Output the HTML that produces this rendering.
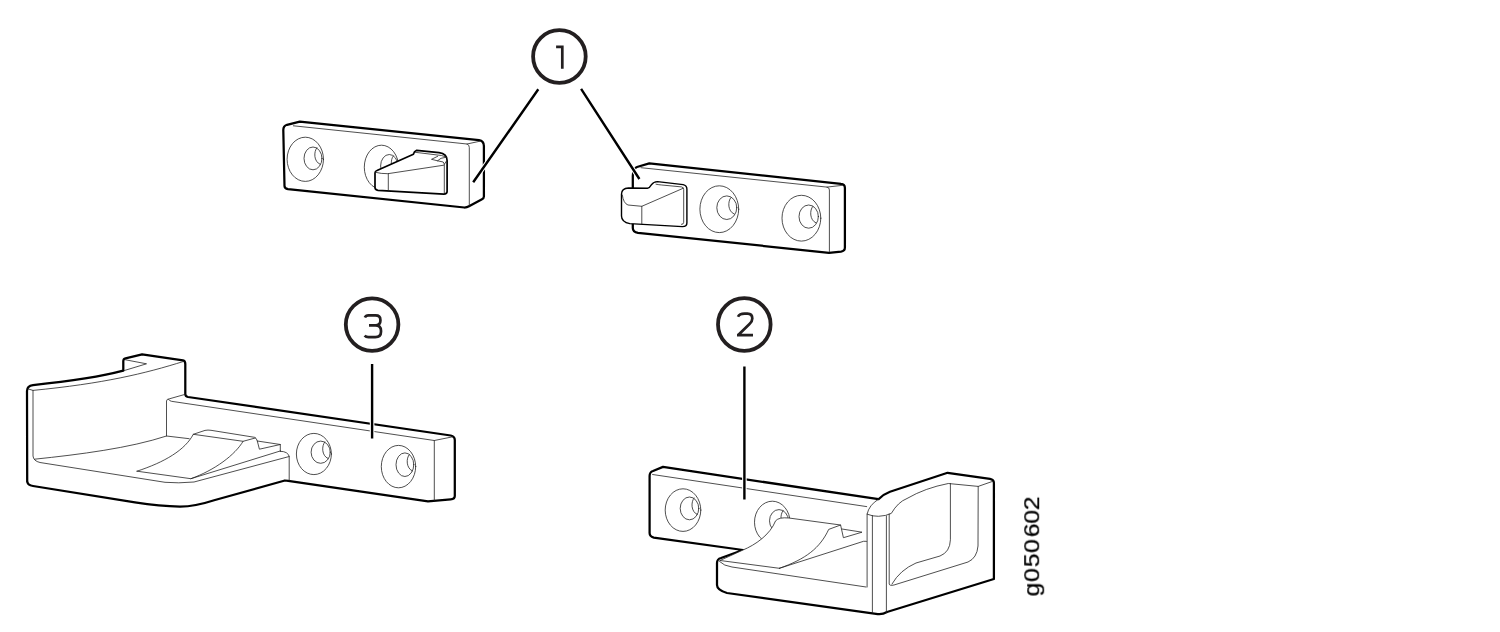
<!DOCTYPE html>
<html><head><meta charset="utf-8">
<style>
html,body{margin:0;padding:0;background:#fff;width:1500px;height:632px;overflow:hidden}
svg{display:block}
.k{fill:#fff;stroke:#000;stroke-width:2.25;stroke-linejoin:round;stroke-linecap:round}
.t{fill:none;stroke:#222;stroke-width:0.8;stroke-linejoin:round;stroke-linecap:round}
.tf{fill:#fff;stroke:#111;stroke-width:0.9;stroke-linejoin:round}
.L{fill:none;stroke:#000;stroke-width:2.4;stroke-linecap:butt}
.H{fill:none;stroke:#fff;stroke-width:4.6;stroke-linecap:butt}
.c{fill:#fff;stroke:#231f20;stroke-width:3.8}
.d{fill:none;stroke:#231f20;stroke-width:2.7;stroke-linecap:butt;stroke-linejoin:miter}
</style></head>
<body>
<svg width="1500" height="632" viewBox="0 0 1500 632">

<defs><filter id="nf" x="-10%" y="-10%" width="120%" height="120%"><feOffset dx="0" dy="0"/></filter></defs>
<!-- ===== Part 1 left bracket ===== -->
<g id="p1l">
<path class="k" d="M284.5,186 L283.3,130 Q283.3,126 287,124.8 L299.8,121.6 L479,140.1 Q483.9,140.8 483.9,146 L483.9,196.5 Q483.9,198.3 482,199.2 L469,206.3 Q467,207.5 464.4,207.5 L288,189.2 Q284.5,188.6 284.5,186 Z"/>
<path class="t" d="M293.4,125.8 L467,144 Q469.3,144.8 469.3,147.5 L469.3,205.8 M467,144 L480,141.2"/>
<ellipse class="t" cx="305.3" cy="159.3" rx="18.2" ry="22.1"/>
<ellipse class="t" cx="313" cy="158.4" rx="9" ry="11.4"/>
<path class="t" d="M316.9,147.8 C313.6,151.6 313.6,161.6 320.1,164.3"/>
<ellipse class="t" cx="381.5" cy="167.2" rx="17.2" ry="22"/>
<ellipse class="t" cx="389.3" cy="166" rx="8.7" ry="11.5"/>
<path class="t" d="M393.4,155.8 C390.1,159.6 390.1,169.6 396.6,172.3"/>
<!-- latch -->
<path class="k" style="stroke-width:1.7" d="M375,173 Q375,171 377,170.5 L413.4,154.2 Q414,151.5 416.7,150.3 L439,152.6 C445,153.5 447.1,156 447.1,160.5 L447.1,191.5 Q447.1,194.1 443.8,194.1 L378,190.3 Q375,190 375,187.5 Z"/>
<path class="t" d="M375.4,172.3 Q381,173.8 387.8,173.7 L443.8,165.2 L446.5,161 M388.3,173.7 L388.3,191.1 M444.3,165.2 L444.3,193 M415.3,152.3 L441.5,155.5 L446,157 M437.7,156.3 L431.5,159.3 L437.5,160.8 L441,158.3 L446.5,157.2 M437.5,160.8 L443.2,162 L444.3,164"/>
</g>

<!-- ===== Part 1 right bracket ===== -->
<g id="p1r">
<path class="k" d="M632.8,176 Q632.8,168.5 637,167 L649.3,163.4 L841,183.8 Q844.9,184 844.9,188 L844.9,247.5 Q844.9,251 841,251.6 L829,252.8 L638,232.8 Q632.8,232 632.8,228 Z"/>
<path class="t" d="M641,167.7 L827,187.1 Q829.4,187.5 829.4,190 L829.4,251.5 M827,187.1 L842.6,185.3"/>
<ellipse class="t" cx="719.3" cy="209.2" rx="19.4" ry="23.4"/>
<ellipse class="t" cx="726.8" cy="207.7" rx="10" ry="11.8"/>
<path class="t" d="M730.9,197.5 C727.6,201.3 727.6,211.3 734.1,214.0"/>
<ellipse class="t" cx="801.4" cy="218.2" rx="19.4" ry="22.9"/>
<ellipse class="t" cx="808.7" cy="216.6" rx="9.7" ry="11.6"/>
<path class="t" d="M812.8,206.4 C809.5,210.2 809.5,220.2 816.0,222.9"/>
<!-- latch -->
<path class="k" style="stroke-width:1.4" d="M621.5,194 Q621.5,188.5 628.5,188 L647.5,188.2 Q649.5,188 651.3,184.8 Q653.5,181.6 657.5,181.6 L683.1,184.6 Q686.9,185.5 686.9,189 L686.9,223 Q686.9,226.6 682.4,226.6 L629.8,223.6 Q621.5,222 621.5,216 Z"/>
<path class="t" d="M622.3,195 Q623.5,203.5 628,205 L641.8,206.3 L683.1,188.3 M641.8,206.3 L641.8,223.6 M656,184.2 Q659,184.8 661.8,185 L681.5,186.9 Q683.7,187.3 683.7,189.5 L683.7,222.3 Q683.7,224.4 681.5,224.4"/>
</g>

<!-- ===== Part 3 ===== -->
<g id="p3">
<path class="k" d="M27.2,482 L27,391 Q27,386 33,385.1 Q92,379 123.3,370.7 L123.3,361 Q123.3,358.8 125.5,358.3 L142.1,354.4 L183,360.4 Q185.3,361 185.3,364 L185.3,394 Q185.3,396.5 188,397 L450.7,435.5 Q454.8,436.5 454.8,440 L454.8,496 Q454.8,499 450.7,499.3 L428,501.3 L288.2,480.8 L284.9,480.5 L215,500 Q195,506.5 180,506.7 Q160,506 135,502.3 L33,486 Q27.5,485 27.5,482 Z"/>
<path class="t" d="M28.3,389 L33,390.4 C103,383.6 145,373.6 183.6,361.4 M125.5,359.8 L146.5,363.8 L124.4,370.5"/>
<path class="t" d="M166.5,436 L166.5,401 Q166.5,399 169.8,398.7 L185.3,394.3 M168.5,399.3 Q169.5,401 171.5,401.3 L434.3,440.5 L452.7,436.8 M434.3,440.5 L434.3,500.3"/>
<path class="t" d="M33,390.4 L33,456 Q33.5,461 40,462.5 L165,482.3 Q178,483.5 194,482 L289.2,456.5 L289.2,480.5 M280.3,451.3 Q288,451.3 289.3,456.5"/>
<path class="t" d="M34.5,459.2 C80,454.5 130,448 166.5,436 L189.2,438.7"/>
<!-- floor latch -->
<path class="t" d="M137,471.2 C165,462 185,450 193.3,434.3 L205,430.4 Q208,429.8 211,430.3 L254.5,437.3 Q256.5,438 257.3,441 L259.4,449.2 L280.3,444.5 L280.3,451.1 M257.3,441 L280.3,444.5"/>
<path class="t" d="M193.3,434.3 L243.1,441.3 L255.3,438 M243.1,441.3 C235,455 215,470 190.9,478.7 M137,471.2 L190.9,478.7 L280.5,450.9"/>
<ellipse class="t" cx="313.9" cy="454" rx="17.5" ry="20.6"/>
<ellipse class="t" cx="320.7" cy="452.2" rx="9.6" ry="11.1"/>
<path class="t" d="M324.8,442.0 C321.5,445.8 321.5,455.8 328.0,458.5"/>
<ellipse class="t" cx="398.5" cy="466.6" rx="17.2" ry="21.2"/>
<ellipse class="t" cx="404.9" cy="464.7" rx="8.9" ry="11.8"/>
<path class="t" d="M409.3,454.5 C406.0,458.3 406.0,468.3 412.5,471.0"/>
</g>

<!-- ===== Part 2 ===== -->
<g id="p2">
<path class="k" d="M649.6,476 Q649.6,472 653,471 L663,466.9 L878.5,499.2 Q883,494.5 890,491.8 L947.6,472.8 L990,478.8 Q993.9,479.5 993.9,483 L993.9,579 L887,612 Q882,615 876,613.8 L727,593 Q717,590 717,585 L717,563 Q717,559 721,558 L743,550 L653.8,537.6 Q649.6,536.5 649.6,533 Z"/>
<path class="t" d="M652.6,474.5 L866.7,506.6"/>
<!-- post -->
<path class="t" d="M867.1,587 L867.1,514.2 Q869,505 878.5,499.2 M867.1,514.2 Q873,516.5 878.5,516.3 Q886,516 891.3,513.4 Q898,502 907,498.5 Q925,488 948.3,483.5 L978.2,486.4 L992.5,481.4"/>
<path class="t" d="M872.4,515.5 L872.4,613 M886.4,516 L886.4,612.5 M889.2,514 L889.2,584 Q889.5,586 894,585 L968,562 Q977,558 978,546 L978.2,486.4 M950.4,483.5 L950.4,539.8 Q950,552 940,556 L916,563 Q900,570 892,584"/>
<!-- holes -->
<ellipse class="t" cx="683" cy="510.1" rx="17.8" ry="21.3"/>
<ellipse class="t" cx="689.5" cy="508.4" rx="9.3" ry="11.4"/>
<path class="t" d="M694.1,498.0 C690.8,501.8 690.8,511.8 697.3,514.5"/>
<ellipse class="t" cx="772.3" cy="522.2" rx="17.8" ry="21"/>
<ellipse class="t" cx="779" cy="520.8" rx="9.5" ry="11.2"/>
<path class="t" d="M783.1,510.6 C779.8,514.4 779.8,524.4 786.3,527.1"/>
<!-- latch -->
<path style="fill:#fff;stroke:none" d="M720,560.5 L743,550 C755,545 770,535 775.6,520.8 Q779,517 788.9,518 L840.6,525 L843.4,537.7 L862,532.2 L866.7,541.3 L779.4,568.3 Z"/>
<path class="t" d="M720,560.5 L743,550 C755,545 770,535 775.6,520.8 Q779,517 788.9,518 L840.6,525 L843.4,537.7 L862,532.2 L842,529 M779.4,568.3 L863.5,541.3 L866.7,541.3 M720,560.5 L779.4,568.3"/>
<path class="t" d="M840.6,525 L828.7,529.4 C820,548 806,559 779.4,568.3"/>
<path class="t" d="M719.5,561.5 Q724,566 732,567 L866,587"/>

</g>

<!-- ===== Leaders & callouts ===== -->
<path class="H" d="M538.3,89.2 L473.2,182.3 M581.1,88.9 L639.4,179 M372.1,364 L372.1,438.5 M744.4,366.4 L744.4,499.5"/>
<path class="L" d="M538.3,89.2 L473.2,182.3 M581.1,88.9 L639.4,179 M372.1,364 L372.1,438.5 M744.4,366.4 L744.4,499.5"/>
<circle class="c" cx="559.4" cy="56.5" r="26.3"/>
<circle class="c" cx="372.1" cy="324.6" r="26.3"/>
<circle class="c" cx="744.3" cy="324.5" r="26.3"/>
<!-- digits -->
<path class="d" d="M556.1,46.8 L562.3,46.8 L562.3,68.8"/>
<path class="d" d="M364.9,317.6 Q365.8,315.4 368.5,315.4 L375.5,315.4 C379,315.4 380.4,317.3 380.4,320 L380.4,320.8 C380.4,323.6 378.8,325.3 375.5,325.3 L369,325.3 M375.5,325.3 C379.4,325.3 381,327.5 381,330.8 L381,331.8 C381,335.5 379,337.2 375.3,337.2 L368.5,337.2 Q366,337.2 364.6,335.6"/>
<path class="d" d="M738,316.8 Q739.5,313.6 744.5,313.6 L747.5,313.6 Q752.3,313.6 752.3,318.5 Q752.3,321.5 749.5,324 L738.5,334.8 M737,335.2 L753,335.2"/>
<text filter="url(#nf)" x="-0.73 12.55 25.91 38.91 53.09 65.55 77.73" y="0" transform="translate(1039.2,595.7) rotate(-90) scale(1.1,1)" font-family="Liberation Sans, sans-serif" font-size="22.5" fill="#000" stroke="#000" stroke-width="0.25">g050602</text>
</svg>
</body></html>
